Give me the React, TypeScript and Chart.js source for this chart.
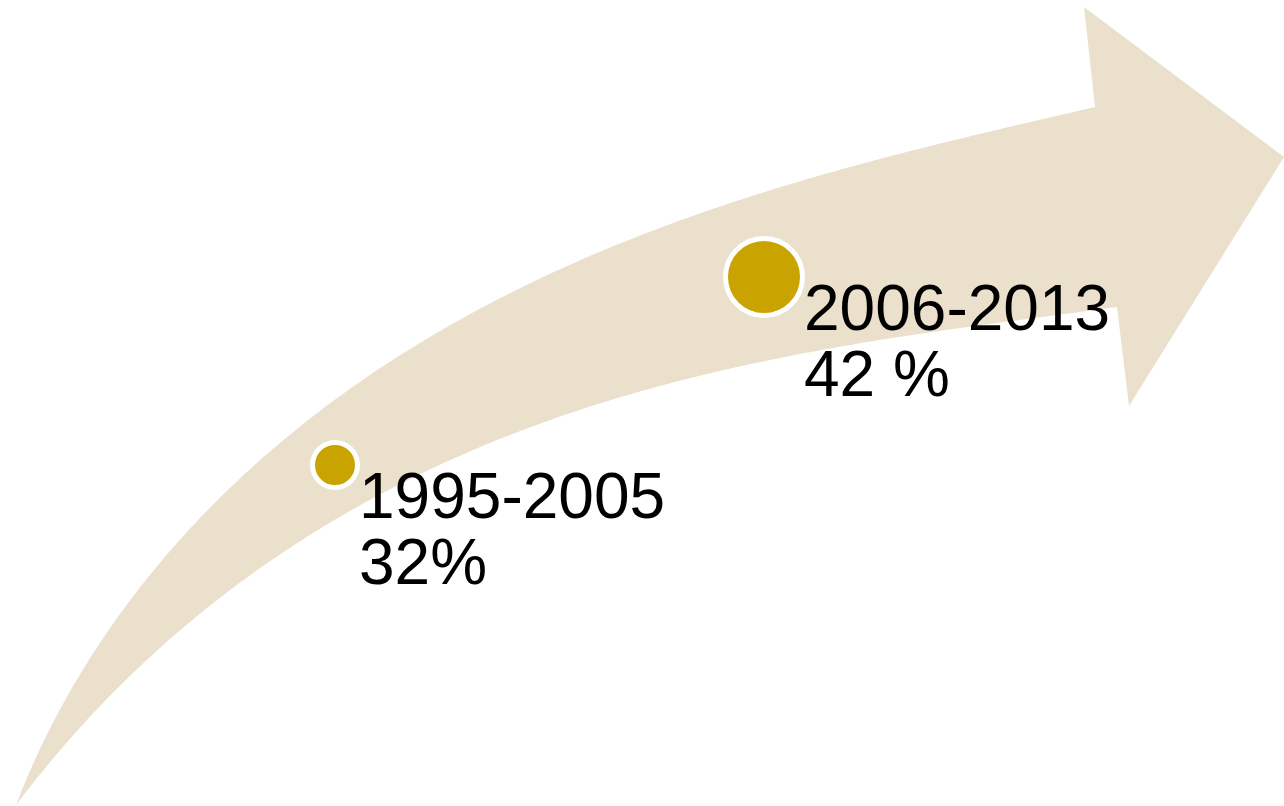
import React, { useEffect, useRef } from "react";
import { Chart, registerables } from "chart.js";

Chart.register(...registerables);

// ---- data ----
const periods = ["1995-2005", "2006-2013"];
const shareLabels = ["32%", "42 %"];
const shareValues = [32, 42];

// bubble placement along the arrow (data units of the hidden scales)
const bubbleX = [335, 764];
const bubbleY = [465, 277];
const bubbleR = [22.5, 38.5];

// arrow outline samples (data units); a smooth curve is fitted through them
const tailX = 16;
const tailY = 805;
const upperEdgeX = [47, 77, 110, 165, 222, 298, 400, 500, 600, 750, 900];
const upperEdgeY = [737, 677, 627, 560, 500, 422, 353, 300, 254, 197, 152];
const headX = [1095, 1084, 1284, 1129, 1117];
const headY = [107, 7, 157, 406, 307];
const lowerEdgeX = [77, 133, 167, 200, 270, 290, 350, 373, 400, 500, 600, 650, 800];
const lowerEdgeY = [727, 670, 648, 617, 558, 550, 507, 500, 480, 440, 406, 390, 352];

const ARROW_COLOR = "#EAE0CC";
const BUBBLE_COLOR = "#C9A400";
const FONT = '"Liberation Sans", Arial, sans-serif';

type P = { x: number; y: number };

function binom(n: number, k: number) {
  let r = 1;
  for (let i = 1; i <= k; i++) r = (r * (n - k + i)) / i;
  return r;
}
function bern(n: number, k: number, t: number) {
  return binom(n, k) * Math.pow(t, k) * Math.pow(1 - t, n - k);
}
function bezierAt(ctrl: P[], t: number): P {
  const n = ctrl.length - 1;
  let x = 0;
  let y = 0;
  for (let k = 0; k <= n; k++) {
    const b = bern(n, k, t);
    x += b * ctrl[k].x;
    y += b * ctrl[k].y;
  }
  return { x, y };
}
function solve(A: number[][], b: number[]): number[] {
  const n = b.length;
  const M = A.map((row, i) => [...row, b[i]]);
  for (let c = 0; c < n; c++) {
    let piv = c;
    for (let r = c + 1; r < n; r++) if (Math.abs(M[r][c]) > Math.abs(M[piv][c])) piv = r;
    [M[c], M[piv]] = [M[piv], M[c]];
    for (let r = 0; r < n; r++) {
      if (r === c) continue;
      const f = M[r][c] / M[c][c];
      for (let k = c; k <= n; k++) M[r][k] -= f * M[c][k];
    }
  }
  return M.map((row, i) => row[n] / row[i]);
}

// least-squares Bezier of given degree with fixed end points
function fitBezier(start: P, end: P, pts: P[], degree: number): P[] {
  const all = [start, ...pts, end];
  const d: number[] = [0];
  for (let i = 1; i < all.length; i++) d.push(d[i - 1] + Math.hypot(all[i].x - all[i - 1].x, all[i].y - all[i - 1].y));
  let ts = pts.map((_, i) => d[i + 1] / d[d.length - 1]);
  let ctrl: P[] = [];
  const m = degree - 1;
  for (let iter = 0; iter < 6; iter++) {
    const A: number[][] = Array.from({ length: m }, () => new Array(m).fill(0));
    const bx = new Array(m).fill(0);
    const by = new Array(m).fill(0);
    pts.forEach((q, i) => {
      const t = ts[i];
      const B = Array.from({ length: degree + 1 }, (_, k) => bern(degree, k, t));
      const rx = q.x - B[0] * start.x - B[degree] * end.x;
      const ry = q.y - B[0] * start.y - B[degree] * end.y;
      for (let a = 0; a < m; a++) {
        for (let c = 0; c < m; c++) A[a][c] += B[a + 1] * B[c + 1];
        bx[a] += B[a + 1] * rx;
        by[a] += B[a + 1] * ry;
      }
    });
    const cx = solve(A, bx);
    const cy = solve(A, by);
    ctrl = [start, ...cx.map((x, i) => ({ x, y: cy[i] })), end];
    // re-parameterise: nearest point on curve
    ts = pts.map((q, i) => {
      let best = ts[i];
      let bestD = Infinity;
      for (let s = 0; s <= 400; s++) {
        const t = s / 400;
        const p = bezierAt(ctrl, t);
        const dd = (p.x - q.x) ** 2 + (p.y - q.y) ** 2;
        if (dd < bestD) {
          bestD = dd;
          best = t;
        }
      }
      return best;
    });
  }
  return ctrl;
}

const zip = (X: number[], Y: number[]): P[] => X.map((x, i) => ({ x, y: Y[i] }));

const arrowPlugin = {
  id: "arrowShape",
  beforeDatasetsDraw(chart: any) {
    const { ctx, scales } = chart;
    const px = (p: P) => ({ x: scales.x.getPixelForValue(p.x), y: scales.y.getPixelForValue(p.y) });
    const tail = { x: tailX, y: tailY };
    const head = zip(headX, headY);
    const upperCtrl = fitBezier(tail, head[0], zip(upperEdgeX, upperEdgeY), 4);
    const lowerCtrl = fitBezier(tail, head[head.length - 1], zip(lowerEdgeX, lowerEdgeY), 4);
    const N = 200;
    ctx.save();
    ctx.beginPath();
    for (let i = 0; i <= N; i++) {
      const p = px(bezierAt(upperCtrl, i / N));
      if (i === 0) ctx.moveTo(p.x, p.y);
      else ctx.lineTo(p.x, p.y);
    }
    head.forEach((h) => {
      const p = px(h);
      ctx.lineTo(p.x, p.y);
    });
    for (let i = N; i >= 0; i--) {
      const p = px(bezierAt(lowerCtrl, i / N));
      ctx.lineTo(p.x, p.y);
    }
    ctx.closePath();
    ctx.fillStyle = ARROW_COLOR;
    ctx.fill();
    ctx.restore();
  },
};

const labelPlugin = {
  id: "periodLabels",
  afterDatasetsDraw(chart: any) {
    const { ctx } = chart;
    const meta = chart.getDatasetMeta(0);
    ctx.save();
    ctx.fillStyle = "#000000";
    ctx.font = `64px ${FONT}`;
    ctx.textAlign = "left";
    ctx.textBaseline = "alphabetic";
    meta.data.forEach((el: any, i: number) => {
      const outer = bubbleR[i] + 2.5;
      const x = el.x + outer - 1;
      const y = el.y + 53;
      ctx.fillText(periods[i], x, y);
      ctx.fillText(shareLabels[i], x, y + 66);
    });
    ctx.restore();
  },
};

export default function App() {
  const canvasRef = useRef<HTMLCanvasElement | null>(null);

  useEffect(() => {
    document.body.style.margin = "0";
    const canvas = canvasRef.current;
    if (!canvas) return;
    const chart = new Chart(canvas, {
      type: "bubble",
      data: {
        datasets: [
          {
            label: "Share",
            data: shareValues.map((v, i) => ({ x: bubbleX[i], y: bubbleY[i], r: bubbleR[i], v })),
            backgroundColor: BUBBLE_COLOR,
            borderColor: "#FFFFFF",
            borderWidth: 5,
            hoverBorderWidth: 5,
          } as any,
        ],
      },
      options: {
        animation: false,
        responsive: true,
        maintainAspectRatio: false,
        layout: { padding: 0, autoPadding: false },
        events: [],
        scales: {
          x: { type: "linear", min: 0, max: 1284, display: false },
          y: { type: "linear", min: 0, max: 806, reverse: true, display: false },
        },
        plugins: {
          legend: { display: false },
          tooltip: { enabled: false },
        },
        clip: false as any,
      },
      plugins: [arrowPlugin, labelPlugin],
    });
    return () => chart.destroy();
  }, []);

  return (
    <div style={{ position: "fixed", left: 0, top: 0, width: 1284, height: 806, background: "#FFFFFF" }}>
      <canvas ref={canvasRef} />
    </div>
  );
}
